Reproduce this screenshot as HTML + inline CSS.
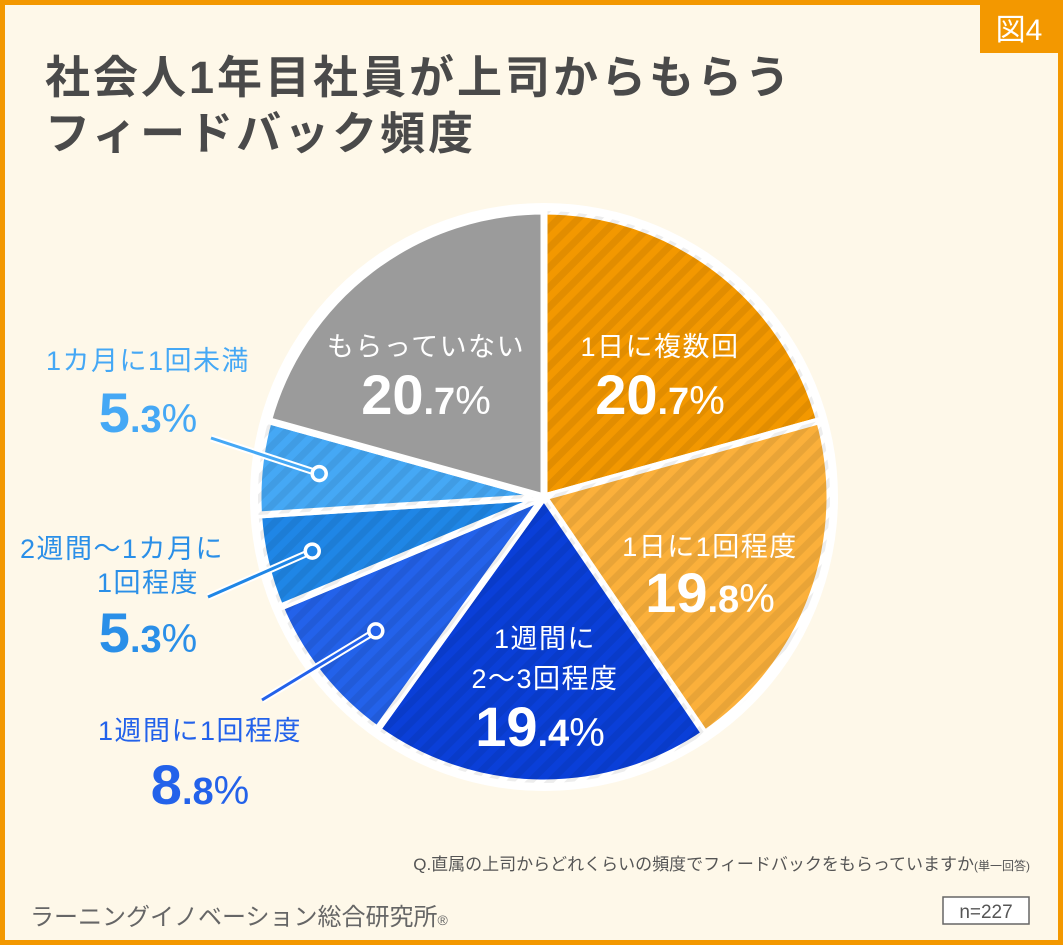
<!DOCTYPE html>
<html><head><meta charset="utf-8"><style>
html,body{margin:0;padding:0}
body{width:1063px;height:945px;overflow:hidden;font-family:"Liberation Sans","Noto Sans CJK JP",sans-serif}
svg text{font-family:"Liberation Sans","Noto Sans CJK JP",sans-serif}
</style></head><body>
<svg id="chart" width="1063" height="945" viewBox="0 0 1063 945">
<defs>
<pattern id="stripes" width="14" height="14" patternUnits="userSpaceOnUse" patternTransform="rotate(45)">
<rect width="7" height="14" fill="rgba(0,0,0,0.07)"/>
</pattern>
</defs>
<rect x="0" y="0" width="1063" height="945" fill="#f39800"/>
<rect x="5" y="5" width="1053" height="935" fill="#fef8e9"/>
<rect x="980" y="5" width="78" height="48" fill="#f39800"/>
<text x="1019" y="40" font-size="30" fill="#fff" text-anchor="middle">図4</text>
<text x="45" y="93" font-size="45" font-weight="bold" fill="#4a4a4a" letter-spacing="3">社会人1年目社員が上司からもらう</text>
<text x="45" y="149" font-size="45" font-weight="bold" fill="#4a4a4a" letter-spacing="3">フィードバック頻度</text>
<circle cx="544" cy="497" r="294" fill="#fff"/>
<g id="slices"></g>
<g id="labels"></g>
<text x="1030" y="870" font-size="17" fill="#555" text-anchor="end">Q.直属の上司からどれくらいの頻度でフィードバックをもらっていますか<tspan font-size="12">(単一回答)</tspan></text>
<text x="30" y="925" font-size="24" fill="#666">ラーニングイノベーション総合研究所<tspan font-size="14">®</tspan></text>
<rect x="943" y="897" width="86" height="27" fill="#fff" stroke="#666" stroke-width="1.5"/>
<text x="986" y="918" font-size="19" fill="#555" text-anchor="middle">n=227</text>
</svg>
<script>
const categories=["1日に複数回","1日に1回程度","1週間に2~3回程度","1週間に1回程度","2週間～1カ月に1回程度","1カ月に1回未満","もらっていない"];
const values=[20.7,19.8,19.4,8.8,5.3,5.3,20.7];
const valueLabels=["20.7","19.8","19.4","8.8","5.3","5.3","20.7"];
const colors=["#f39800","#fbb03b","#0a3fd8","#2362ea","#1f86e6","#45a8f5","#9b9b9b"];
const NS="http://www.w3.org/2000/svg";
const cx=544,cy=497,R=286;
const total=values.reduce((a,b)=>a+b,0);
function angleOf(v){return v/total*Math.PI*2;}
function pt(a,r){return [cx+r*Math.sin(a),cy-r*Math.cos(a)];}
const gS=document.getElementById('slices');
let a0=0;const mids=[];
values.forEach((v,i)=>{
  const a1=a0+angleOf(v);
  const p0=pt(a0,R),p1=pt(a1,R);
  const large=(a1-a0)>Math.PI?1:0;
  const d=`M${cx},${cy} L${p0[0]},${p0[1]} A${R},${R} 0 ${large} 1 ${p1[0]},${p1[1]} Z`;
  const p=document.createElementNS(NS,'path');
  p.setAttribute('d',d);p.setAttribute('fill',colors[i]);
  p.setAttribute('stroke','#fff');p.setAttribute('stroke-width','7');p.setAttribute('stroke-linejoin','round');
  
  
  gS.appendChild(p);
  if(i!==6){
    const s=document.createElementNS(NS,'path');
    s.setAttribute('d',d);s.setAttribute('fill','url(#stripes)');
    
    
    gS.appendChild(s);
  }
  mids.push((a0+a1)/2);
  a0=a1;
});
const gL=document.getElementById('labels');
function txt(x,y,size,color,str,name,bold){
  const t=document.createElementNS(NS,'text');
  t.setAttribute('x',x);t.setAttribute('y',y);t.setAttribute('font-size',size);
  t.setAttribute('fill',color);t.setAttribute('text-anchor','middle');
  t.setAttribute('letter-spacing','1.5');
  if(bold)t.setAttribute('font-weight','bold');
  t.textContent=str;
  
  
  gL.appendChild(t);return t;
}
function pct(x,y,color,val,name){
  const t=document.createElementNS(NS,'text');
  t.setAttribute('x',x);t.setAttribute('y',y);t.setAttribute('text-anchor','middle');
  t.setAttribute('fill',color);t.setAttribute('font-weight','bold');
  const parts=val.split('.');
  t.innerHTML=`<tspan font-size="56">${parts[0]}</tspan><tspan font-size="38">.${parts[1]}</tspan><tspan font-size="40" font-weight="normal">%</tspan>`;
  
  
  gL.appendChild(t);
}
txt(660,356,27,"#fff","1日に複数回","label-multiple-daily");
pct(660,414,"#fff",valueLabels[0],"value-multiple-daily");
txt(710,556,27,"#fff","1日に1回程度","label-once-daily");
pct(710,612,"#fff",valueLabels[1],"value-once-daily");
txt(545,648,27,"#fff","1週間に","label-2-3-weekly");
txt(545,688,27,"#fff","2～3回程度","label-2-3-weekly-line2");
pct(540,746,"#fff",valueLabels[2],"value-2-3-weekly");
txt(426,356,27,"#fff","もらっていない","label-none");
pct(426,414,"#fff",valueLabels[6],"value-none");
function leader(a,r,x2,y2,color,name){
  const p=pt(a,r);
  const l=document.createElementNS(NS,'line');
  l.setAttribute('x1',p[0]);l.setAttribute('y1',p[1]);l.setAttribute('x2',x2);l.setAttribute('y2',y2);
  l.setAttribute('stroke','#fff');l.setAttribute('stroke-width','7');
  
  
  gL.appendChild(l);
  const l2=l.cloneNode();l2.setAttribute('stroke',color);l2.setAttribute('stroke-width','3');
  
  
  gL.appendChild(l2);
  const c=document.createElementNS(NS,'circle');
  c.setAttribute('cx',p[0]);c.setAttribute('cy',p[1]);c.setAttribute('r','7');
  c.setAttribute('fill',color);c.setAttribute('stroke','#fff');c.setAttribute('stroke-width','3.5');
  
  
  gL.appendChild(c);
}
leader(mids[5],226,211,438,"#45a8f5","leader-monthly-less");
leader(mids[4],238,208,597,"#1f86e6","leader-biweekly-monthly");
leader(mids[3],215,262,700,"#2362ea","leader-weekly");
txt(148,370,27,"#45a8f5","1カ月に1回未満","label-monthly-less");
pct(148,432,"#45a8f5",valueLabels[5],"value-monthly-less");
txt(122,558,27,"#2a8fe8","2週間～1カ月に","label-biweekly-monthly");
txt(148,592,27,"#2a8fe8","1回程度","label-biweekly-monthly-line2");
pct(148,652,"#2a8fe8",valueLabels[4],"value-biweekly-monthly");
txt(200,740,27,"#2362ea","1週間に1回程度","label-weekly");
pct(200,804,"#2362ea",valueLabels[3],"value-weekly");
</script>
</body></html>
